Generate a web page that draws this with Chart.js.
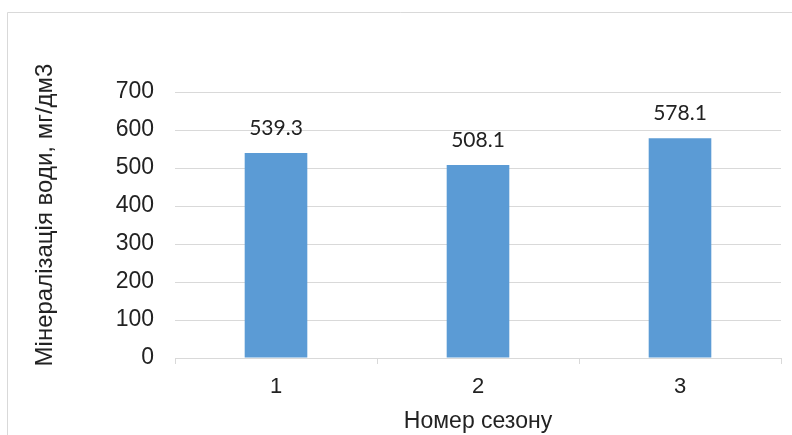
<!DOCTYPE html>
<html><head><meta charset="utf-8">
<script src="https://cdn.jsdelivr.net/npm/chart.js@4"></script>
<style>html,body{margin:0;padding:0;background:#fff}#wrap{width:792px;height:435px;position:relative}</style>
</head><body><div id="wrap"><canvas id="c" width="792" height="435"></canvas></div>
<script>
const categories = ['1', '2', '3'];
const values = [539.3, 508.1, 578.1];
const yTicks = [0, 100, 200, 300, 400, 500, 600, 700];
const yTitle = 'Мінералізація води, мг/дм3';
const xTitle = 'Номер сезону';

const AX_FONT = '"Liberation Sans", Arial, sans-serif';

const frame = {
  id: 'frame',
  beforeDraw(chart) {
    const ctx = chart.ctx;
    ctx.save();
    ctx.fillStyle = '#fff';
    ctx.fillRect(0, 0, chart.width, chart.height);
    ctx.strokeStyle = '#d9d9d9';
    ctx.lineWidth = 1;
    ctx.beginPath();
    ctx.moveTo(7.5, 440);
    ctx.lineTo(7.5, 12.5);
    ctx.lineTo(800, 12.5);
    ctx.stroke();
    ctx.restore();
  },
  afterDraw(chart) {
    const ctx = chart.ctx;
    ctx.save();
    ctx.font = '24px ' + AX_FONT;
    ctx.fillStyle = '#222';
    ctx.textAlign = 'center';
    ctx.textBaseline = 'middle';
    ctx.translate(45, 215);
    ctx.rotate(-Math.PI / 2);
    ctx.fillText(yTitle, 0, 0);
    ctx.restore();
  }
};
const labels = {
  id: 'labels',
  afterDatasetsDraw(chart) {
    const ctx = chart.ctx;
    const meta = chart.getDatasetMeta(0);
    ctx.save();
    ctx.font = '21px Lato, "Open Sans", sans-serif';
    ctx.fillStyle = '#222';
    ctx.textAlign = 'center';
    ctx.textBaseline = 'middle';
    meta.data.forEach((bar, i) => {
      ctx.fillText(values[i].toFixed(1), bar.x, bar.y - 25);
    });
    ctx.restore();
  }
};

new Chart(document.getElementById('c'), {
  type: 'bar',
  data: {
    labels: categories,
    datasets: [{ data: values, backgroundColor: '#5B9BD5', borderWidth: 0,
      categoryPercentage: 1, barPercentage: 0.31 }]
  },
  options: {
    responsive: false,
    animation: false,
    devicePixelRatio: 1,
    layout: { padding: { top: 92, right: 11, left: 0, bottom: 0 } },
    plugins: { legend: { display: false }, tooltip: { enabled: false } },
    scales: {
      x: {
        grid: { display: true, drawOnChartArea: false, drawTicks: true, tickLength: 6, color: '#d9d9d9', offset: true },
        border: { display: true, color: '#d9d9d9' },
        ticks: { color: '#222', font: { family: AX_FONT, size: 22 }, padding: 10 },
        title: { display: true, text: xTitle, color: '#222', font: { family: AX_FONT, size: 23 }, padding: { top: 4, bottom: 0 } },
        afterFit(s) { s.height = 77; }
      },
      y: {
        min: 0, max: 700,
        afterBuildTicks(s) { s.ticks = yTicks.map(v => ({ value: v })); },
        grid: { color: '#d9d9d9', drawTicks: false },
        border: { display: false },
        ticks: { color: '#222', font: { family: AX_FONT, size: 23 }, padding: 21 },
        title: { display: false },
        afterFit(s) { s.width = 175; }
      }
    }
  },
  plugins: [frame, labels]
});
</script></body></html>
